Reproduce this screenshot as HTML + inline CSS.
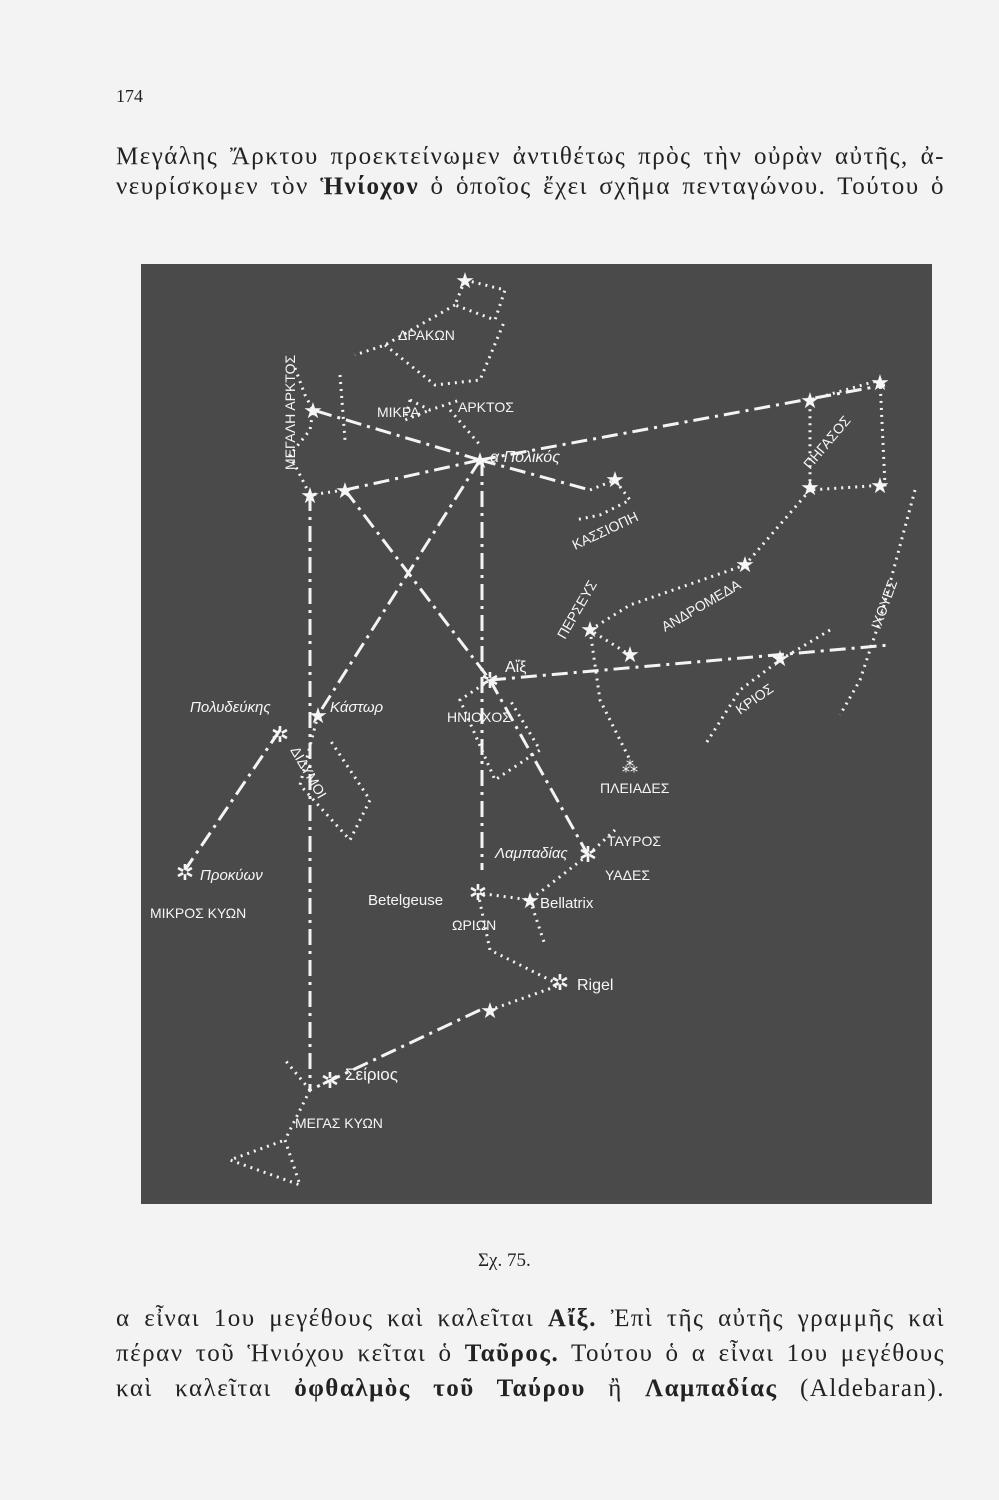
<!DOCTYPE html>
<html><head><meta charset="utf-8"><style>
body{margin:0;width:999px;height:1500px;background:#f3f3f3;font-family:"Liberation Serif",serif;color:#222;position:relative;overflow:hidden}
.t{position:absolute;left:116px;width:829px;font-size:25px;letter-spacing:1.5px;white-space:nowrap;text-align:justify;text-align-last:justify}
</style></head><body>
<div class="t" style="top:86px;font-size:18px;letter-spacing:0;text-align-last:left">174</div>
<div class="t" style="top:143px">Μεγάλης Ἄρκτου προεκτείνωμεν ἀντιθέτως πρὸς τὴν οὐρὰν αὐτῆς, ἀ-</div>
<div class="t" style="top:173px">νευρίσκομεν τὸν <b>Ἡνίοχον</b> ὁ ὁποῖος ἔχει σχῆμα πενταγώνου. Τούτου ὁ</div>
<div class="t" style="top:1250px;left:478px;width:auto;font-size:19px;letter-spacing:0;text-align-last:left">Σχ. 75.</div>
<div class="t" style="top:1305px">α εἶναι 1ου μεγέθους καὶ καλεῖται <b>Αἴξ.</b> Ἐπὶ τῆς αὐτῆς γραμμῆς καὶ</div>
<div class="t" style="top:1340px">πέραν τοῦ Ἡνιόχου κεῖται ὁ <b>Ταῦρος.</b> Τούτου ὁ α εἶναι 1ου μεγέθους</div>
<div class="t" style="top:1375px">καὶ καλεῖται <b>ὀφθαλμὸς τοῦ Ταύρου</b> ἢ <b>Λαμπαδίας</b> (Aldebaran).</div>
<svg style="position:absolute;left:0;top:0" width="999" height="1500">
<rect x="141" y="264" width="791" height="940" fill="#4a4a4a"/>
<g stroke="#f4f4f4" stroke-width="3" fill="none" stroke-dasharray="16,6,3,6">
<path d="M480 460 L885 385"/><path d="M480 460 L313 410"/><path d="M480 460 L345 490"/>
<path d="M480 460 L590 490"/><path d="M482 460 L482 870"/><path d="M480 460 L318 715"/>
<path d="M345 490 L490 680"/><path d="M310 495 L310 1090"/><path d="M280 730 L185 870"/>
<path d="M490 680 L890 645"/><path d="M490 680 L588 855"/><path d="M480 1010 L310 1090"/>
</g>
<g stroke="#f4f4f4" stroke-width="3" fill="none" stroke-dasharray="2,5">
<path d="M465 280 L505 290 L495 320 L455 305 Z M455 305 L385 345 L355 355 M385 345 L435 385 L480 380 L505 320"/>
<path d="M295 368 L305 395 L313 410 L310 430 L290 455 L310 495 L345 490"/>
<path d="M340 375 L345 440 M410 400 L430 410 L460 400 M410 400 L405 420 L430 410 M450 410 L480 445"/>
<path d="M590 490 L615 480 L630 500 L600 515 L575 520"/>
<path d="M880 380 L885 485 L810 490 L810 400 Z M810 490 L745 565 L630 605 L590 630 L630 655"/>
<path d="M915 490 L880 620 L860 680 L840 715 M830 630 L780 660 L740 690 L705 745"/>
<path d="M318 715 L300 785 L350 840 L370 800 L330 740"/>
<path d="M490 680 L460 700 L495 780 L540 750 L510 700 M590 630 L600 700 L630 760"/>
<path d="M588 855 L615 830 M588 855 L530 900 L478 893 L490 950 L560 985 L490 1010 M530 900 L545 945"/>
<path d="M310 1090 L285 1060 M310 1090 L285 1140 L300 1185 L230 1160 L285 1140"/>
</g>
<g fill="#f6f6f6" font-size="22">
<text x="480" y="468" text-anchor="middle">★</text><text x="345" y="498" text-anchor="middle">★</text>
<text x="310" y="503" text-anchor="middle">★</text><text x="313" y="418" text-anchor="middle">★</text>
<text x="490" y="688" text-anchor="middle">✲</text><text x="318" y="723" text-anchor="middle">★</text>
<text x="280" y="742" text-anchor="middle">✲</text><text x="185" y="880" text-anchor="middle">✲</text>
<text x="478" y="900" text-anchor="middle">✲</text><text x="530" y="908" text-anchor="middle">★</text>
<text x="560" y="990" text-anchor="middle">✲</text><text x="490" y="1018" text-anchor="middle">★</text>
<text x="588" y="862" text-anchor="middle">✲</text><text x="330" y="1088" text-anchor="middle">✲</text>
<text x="810" y="408" text-anchor="middle">★</text><text x="880" y="390" text-anchor="middle">★</text>
<text x="810" y="495" text-anchor="middle">★</text><text x="880" y="493" text-anchor="middle">★</text>
<text x="745" y="572" text-anchor="middle">★</text><text x="630" y="662" text-anchor="middle">★</text>
<text x="590" y="637" text-anchor="middle">★</text><text x="780" y="666" text-anchor="middle">★</text>
<text x="465" y="288" text-anchor="middle">★</text><text x="615" y="487" text-anchor="middle">★</text>
<text x="630" y="772" text-anchor="middle" font-size="16">⁂</text>
</g>
<g fill="#f6f6f6" font-family="Liberation Sans,sans-serif" font-size="14">
<text x="398" y="340">ΔΡΑΚΩΝ</text><text x="377" y="417">ΜΙΚΡΑ</text><text x="458" y="412">ΑΡΚΤΟΣ</text>
<text x="490" y="462" font-style="italic" font-size="16">α Πολικός</text>
<text x="295" y="470" transform="rotate(-90 295 470)">ΜΕΓΑΛΗ ΑΡΚΤΟΣ</text>
<text x="575" y="550" transform="rotate(-25 575 550)">ΚΑΣΣΙΟΠΗ</text>
<text x="810" y="470" transform="rotate(-50 810 470)">ΠΗΓΑΣΟΣ</text>
<text x="665" y="632" transform="rotate(-30 665 632)">ΑΝΔΡΟΜΕΔΑ</text>
<text x="565" y="640" transform="rotate(-60 565 640)">ΠΕΡΣΕΥΣ</text>
<text x="880" y="630" transform="rotate(-70 880 630)">ΙΧΘΥΕΣ</text>
<text x="740" y="715" transform="rotate(-35 740 715)">ΚΡΙΟΣ</text>
<text x="505" y="672" font-size="16">Αἴξ</text><text x="447" y="722">ΗΝΙΟΧΟΣ</text>
<text x="190" y="712" font-style="italic" font-size="15">Πολυδεύκης</text>
<text x="330" y="712" font-style="italic" font-size="15">Κάστωρ</text>
<text x="290" y="750" transform="rotate(60 290 750)">ΔΙΔΥΜΟΙ</text>
<text x="600" y="793">ΠΛΕΙΑΔΕΣ</text><text x="607" y="846">ΤΑΥΡΟΣ</text><text x="605" y="880">ΥΑΔΕΣ</text>
<text x="495" y="858" font-style="italic" font-size="15">Λαμπαδίας</text>
<text x="200" y="880" font-style="italic" font-size="15">Προκύων</text>
<text x="150" y="918">ΜΙΚΡΟΣ ΚΥΩΝ</text>
<text x="368" y="905" font-size="15">Betelgeuse</text><text x="540" y="908" font-size="15">Bellatrix</text>
<text x="452" y="930">ΩΡΙΩΝ</text><text x="577" y="990" font-size="16">Rigel</text>
<text x="345" y="1080" font-size="17">Σείριος</text><text x="295" y="1128">ΜΕΓΑΣ ΚΥΩΝ</text>
</g>
</svg>
</body></html>
